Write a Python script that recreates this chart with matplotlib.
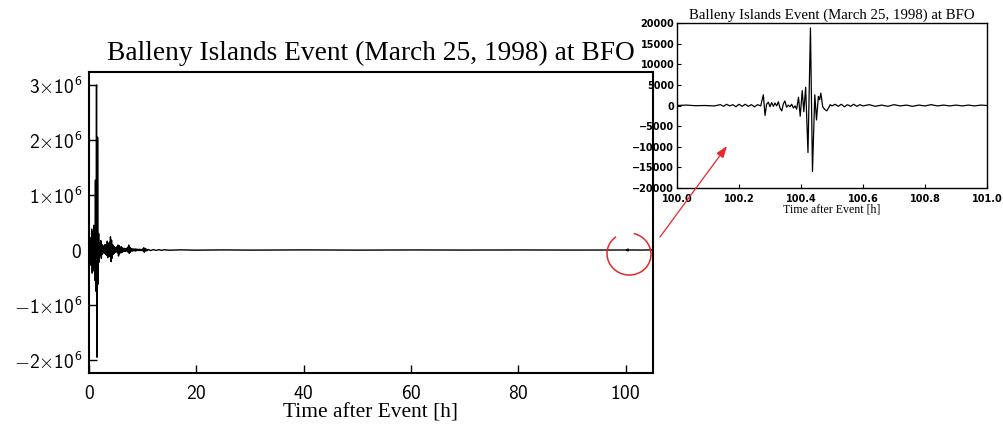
import numpy as np
import matplotlib
matplotlib.use("Agg")
import matplotlib.pyplot as plt
from matplotlib.patches import Arc
from matplotlib.ticker import FuncFormatter, MultipleLocator

plt.rcParams["mathtext.fontset"] = "custom"
plt.rcParams["mathtext.rm"] = "cmss10"
plt.rcParams["mathtext.it"] = "cmss10"
plt.rcParams["mathtext.bf"] = "cmss10"

title = "Balleny Islands Event (March 25, 1998) at BFO"
xlabel = "Time after Event [h]"

# first hours of the record, one sample every 0.1 h, amplitude in 1e6 counts
early_dt = 0.1
early_amp = [
    0.0, 0.03, -0.04, 0.22, -0.28, 0.38, -0.42, 0.33, -0.38, 0.45,
    0.40, -0.55, 1.27, -0.75, 3.0, -1.95, 2.05, -0.62, 0.30, -0.22,
    0.12, -0.10, 0.17, -0.15, 0.10, -0.08, 0.06, -0.05, 0.08, -0.06,
    0.10, -0.08, 0.09, -0.10, 0.16, -0.14, 0.12, -0.10, 0.14, -0.12,
    0.24, -0.21, 0.18, -0.15, 0.10, -0.08, 0.07, -0.06, 0.05, -0.04,
    0.04, -0.03, 0.06, -0.05, 0.09, -0.11, 0.08, -0.07, 0.05, -0.04,
    0.06, -0.05, 0.04, -0.03, 0.03, -0.02, 0.03, -0.03, 0.02, -0.02,
    0.03, -0.02, 0.05, -0.04, 0.09, -0.06, 0.05, -0.04, 0.03, -0.02,
    0.02, -0.02, 0.02, -0.015, 0.015, -0.015, 0.02, -0.02, 0.015, -0.01,
    0.015, -0.01, 0.01, -0.01, 0.015, -0.01, 0.01, -0.01, 0.01, -0.01,
    0.02, -0.02, 0.04, -0.04, 0.03, -0.02, 0.02, -0.015, 0.01, -0.01,
]

# quiet coda up to the zoomed window (1e6 counts)
coda_t = [11.0, 11.5, 12.0, 12.5, 13.0, 13.5, 14.0, 15.0, 17.0, 20.0,
          25.0, 30.0, 40.0, 50.0, 60.0, 70.0, 80.0, 90.0, 99.9]
coda_amp = [0.01, -0.01, 0.008, -0.008, 0.006, -0.006, 0.005, -0.004, 0.003,
            -0.003, 0.002, -0.002, 0.002, -0.002, 0.001, -0.001, 0.001,
            -0.001, 0.0]

# zoomed window, counts
zoom_t = [
    100.00, 100.03, 100.06, 100.09, 100.12, 100.14, 100.15, 100.16, 100.17,
    100.18, 100.19, 100.20, 100.21, 100.22, 100.23, 100.24, 100.25, 100.26,
    100.27, 100.2785, 100.284, 100.289, 100.2946, 100.300, 100.3054, 100.311,
    100.316, 100.3215, 100.327, 100.3325, 100.338, 100.343, 100.348,
    100.3535, 100.359, 100.3645, 100.370, 100.3755, 100.381, 100.386,
    100.392, 100.3975, 100.404, 100.409, 100.415, 100.4225, 100.4305,
    100.437, 100.4445, 100.450, 100.456, 100.460, 100.464, 100.470, 100.476,
    100.483, 100.489, 100.494, 100.50, 100.51, 100.52, 100.53, 100.54,
    100.55, 100.56, 100.57, 100.58, 100.59, 100.60, 100.62, 100.64, 100.66,
    100.68, 100.70, 100.72, 100.74, 100.76, 100.78, 100.80, 100.82, 100.84,
    100.86, 100.88, 100.90, 100.92, 100.94, 100.96, 100.98, 101.00,
]
zoom_amp = [
    0, 100, -50, 0, -100, 200, -200, 300, -100,
    200, -300, 300, -200, 300, -200, 200, -300, 200,
    -100, 2600, -2400, 300, 800, -300, 700, -200,
    600, -100, 900, -700, -1300, 400, 1100,
    -400, 100, -300, 300, -600, -100, -900,
    2000, -2600, 3600, -1500, 4400, -11400, 18800,
    -16000, 2600, -3500, 2200, 1400, 3000, -300, -900,
    -1300, -600, 200, -100, 300, -200, 300, -300,
    200, -200, 300, -200, 200, -100, 200, -200, 100,
    -200, 200, -100, 100, -200, 100, -100, 200, -100,
    100, -100, 100, -100, 100, -100, 100, 0,
]

# after the zoomed window (1e6 counts)
late_t = [101.5, 103.0, 104.5, 106.0]
late_amp = [0.001, -0.001, 0.001, 0.0]

red = "#e8262b"


def main_fmt(v, pos):
    n = int(round(v / 1e6))
    if n == 0:
        return "$0$"
    return r"$%d{\times}10^{6}$" % n


def main():
    fig = plt.figure(figsize=(10.04, 4.29), dpi=100)

    early_t = np.arange(len(early_amp)) * early_dt
    t = np.concatenate([early_t, coda_t, zoom_t, late_t])
    v = np.concatenate([np.array(early_amp) * 1e6, np.array(coda_amp) * 1e6,
                        np.array(zoom_amp, dtype=float),
                        np.array(late_amp) * 1e6])

    ax = fig.add_axes([89 / 1004, 1 - 373 / 429, 564 / 1004, 301 / 429])
    ax.plot(t, v, color="k", lw=1.0)
    ax.set_xlim(0, 105.1)
    ax.set_ylim(-2.236e6, 3.236e6)
    ax.xaxis.set_major_locator(MultipleLocator(20))
    ax.yaxis.set_major_locator(MultipleLocator(1e6))
    ax.xaxis.set_major_formatter(FuncFormatter(lambda x, p: "$%d$" % round(x)))
    ax.yaxis.set_major_formatter(FuncFormatter(main_fmt))
    ax.tick_params(direction="in", length=6, width=1, labelsize=14)
    ax.tick_params(axis="x", pad=8)
    ax.tick_params(axis="y", pad=5)
    for s in ax.spines.values():
        s.set_linewidth(1.5)
    ax.set_title(title, family="Liberation Serif", fontsize=19.7, pad=9)
    ax.set_xlabel(xlabel, family="Liberation Serif", fontsize=15.4, labelpad=0)

    # inset with the zoomed window
    ins = fig.add_axes([677 / 1004, 1 - 188 / 429, 310 / 1004, 165 / 429])
    ins.plot(zoom_t, zoom_amp, color="k", lw=0.9)
    ins.set_xlim(100.0, 101.0)
    ins.set_ylim(-20000, 20000)
    ins.xaxis.set_major_locator(MultipleLocator(0.2))
    ins.yaxis.set_major_locator(MultipleLocator(5000))
    ins.xaxis.set_major_formatter(FuncFormatter(lambda x, p: "%.1f" % x))
    ins.tick_params(direction="in", length=3, width=0.8, labelsize=7)
    ins.tick_params(axis="x", pad=4)
    ins.tick_params(axis="y", pad=2)
    for lab in ins.get_xticklabels() + ins.get_yticklabels():
        lab.set_family("DejaVu Sans")
        lab.set_weight("bold")
    for s in ins.spines.values():
        s.set_linewidth(1.0)
    ins.set_title(title, family="Liberation Serif", fontsize=10.7, pad=3)
    ins.set_xlabel(xlabel, family="Liberation Serif", fontsize=8.6, labelpad=0)

    # red hand marks: circle around the event and arrow to the inset
    over = fig.add_axes([0, 0, 1, 1], facecolor="none")
    over.set_xlim(0, 1004)
    over.set_ylim(0, 429)
    over.axis("off")
    over.add_patch(Arc((629, 429 - 254), 44, 42, angle=-10, theta1=137,
                       theta2=447, color=red, lw=1.1))
    over.annotate("", xy=(727, 429 - 146), xytext=(660, 429 - 237),
                  arrowprops=dict(arrowstyle="-|>,head_length=0.7,head_width=0.25",
                                  color=red, lw=0.9, shrinkA=0, shrinkB=0))

    fig.savefig("out.png", dpi=100)


if __name__ == "__main__":
    main()
